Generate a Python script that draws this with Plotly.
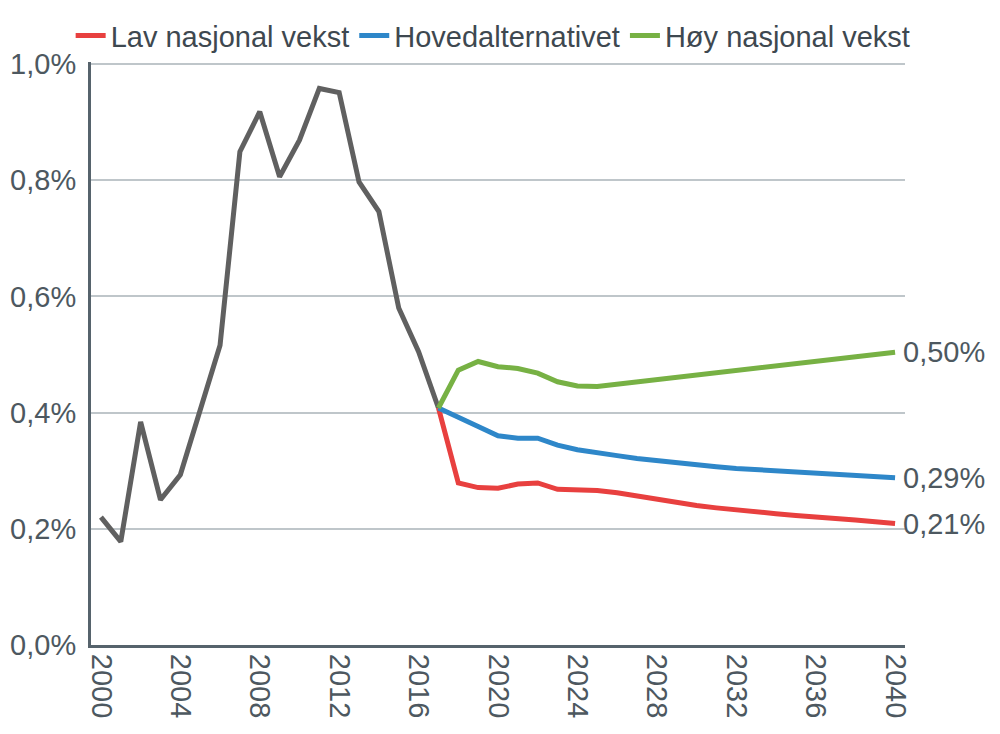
"""Befolkningsvekst: historikk og tre framskrivingsalternativer."""

import plotly.graph_objects as go

# Historical series 2000-2017 (share, 0.01 = 1 %)
hist_years = list(range(2000, 2018))
hist_values = [
    0.220, 0.178, 0.384, 0.250, 0.293, 0.402, 0.516, 0.849, 0.918,
    0.806, 0.869, 0.958, 0.951, 0.797, 0.746, 0.580, 0.505, 0.408,
]

# Projections 2017-2040
proj_years = list(range(2017, 2041))
low_values = [
    0.408, 0.279, 0.271, 0.270, 0.277, 0.279, 0.268, 0.268, 0.266, 0.262,
    0.256, 0.250, 0.245, 0.240, 0.236, 0.232, 0.229, 0.226, 0.223, 0.221,
    0.218, 0.215, 0.212, 0.209,
]
main_values = [
    0.408, 0.393, 0.376, 0.360, 0.356, 0.356, 0.344, 0.336, 0.330, 0.326,
    0.321, 0.317, 0.313, 0.310, 0.307, 0.304, 0.302, 0.300, 0.298, 0.296,
    0.294, 0.292, 0.290, 0.288,
]
high_values = [
    0.408, 0.473, 0.488, 0.479, 0.476, 0.468, 0.453, 0.446, 0.445, 0.449,
    0.453, 0.457, 0.461, 0.465, 0.469, 0.473, 0.477, 0.481, 0.485, 0.489,
    0.493, 0.497, 0.500, 0.504,
]

series_names = ["Lav nasjonal vekst", "Hovedalternativet", "Høy nasjonal vekst"]
series_values = [low_values, main_values, high_values]
series_colors = ["#E8403F", "#2E87C9", "#77B144"]

x_ticks = list(range(2000, 2041, 4))
y_ticks = [0.0, 0.2, 0.4, 0.6, 0.8, 1.0]

FONT = "Liberation Sans, Arial, sans-serif"
TEXT_COLOR = "#4D5860"
FONT_SIZE = 29

fig = go.Figure()

fig.add_trace(
    go.Scatter(
        x=hist_years,
        y=[v / 100 for v in hist_values],
        mode="lines",
        line={"color": "#606060", "width": 5},
        showlegend=False,
        hoverinfo="skip",
    )
)

for name, values, color in zip(series_names, series_values, series_colors):
    fig.add_trace(
        go.Scatter(
            x=proj_years,
            y=[v / 100 for v in values],
            mode="lines",
            name=name,
            line={"color": color, "width": 5},
        )
    )

# end-of-line value labels
for values in series_values:
    last = values[-1]
    fig.add_annotation(
        x=proj_years[-1],
        y=last / 100,
        text=f"{last:.2f}%".replace(".", ","),
        showarrow=False,
        xanchor="left",
        xshift=6,
        font={"family": FONT, "size": FONT_SIZE, "color": TEXT_COLOR},
    )

# page body adds an 8px offset, so the figure is 8px smaller than the window
fig.update_layout(
    width=992,
    height=726,
    margin={"l": 83, "r": 95, "t": 54, "b": 89, "autoexpand": False},
    paper_bgcolor="white",
    plot_bgcolor="white",
    font={"family": FONT, "size": FONT_SIZE, "color": TEXT_COLOR},
    legend={
        "orientation": "h",
        "x": -0.025,
        "xanchor": "left",
        "y": 1.045,
        "yanchor": "middle",
        "itemwidth": 30,
        "font": {"family": FONT, "size": FONT_SIZE, "color": "#3E4850"},
    },
    showlegend=True,
)

fig.update_xaxes(
    range=[1999.5, 2040.5],
    tickmode="array",
    tickvals=x_ticks,
    ticktext=[str(t) for t in x_ticks],
    tickangle=90,
    automargin=False,
    showgrid=False,
    showline=True,
    linecolor="#56636C",
    linewidth=3,
    ticks="",
    zeroline=False,
    tickfont={"size": FONT_SIZE, "color": TEXT_COLOR},
)
fig.update_yaxes(
    range=[0, 0.010035],
    tickmode="array",
    tickvals=[v / 100 for v in y_ticks],
    ticktext=[f"{v:.1f}%".replace(".", ",") for v in y_ticks],
    automargin=False,
    showgrid=True,
    gridcolor="#BFC6CA",
    gridwidth=2,
    showline=True,
    linecolor="#56636C",
    linewidth=3,
    zeroline=False,
    ticks="",
    ticklabelstandoff=6,
    tickfont={"size": FONT_SIZE, "color": TEXT_COLOR},
)

fig.write_html("out.html")
